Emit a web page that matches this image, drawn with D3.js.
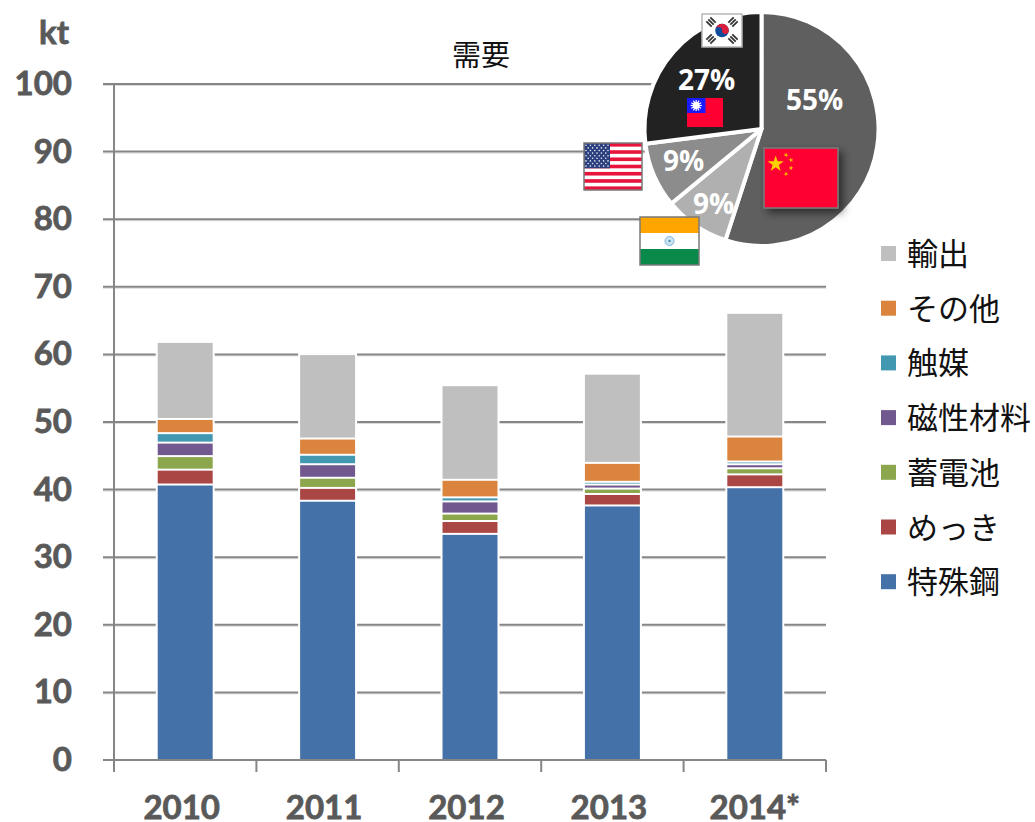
<!DOCTYPE html>
<html>
<head>
<meta charset="utf-8">
<script src="https://cdn.jsdelivr.net/npm/d3@7"></script>
<style>
  html, body { margin: 0; background: #fff; }
  svg { display: block; }
  text { font-family: Lato, "Open Sans", sans-serif; }
  .tick-label { font-size: 33px; font-weight: 700; fill: #595959; stroke: #595959; stroke-width: 0.8px; }
  .jp { font-family: "Noto Sans CJK JP", sans-serif; }
</style>
</head>
<body>
<svg id="chart" width="1035" height="822"></svg>
<script>
var years = ["2010", "2011", "2012", "2013", "2014*"];
var yTicks = [0, 10, 20, 30, 40, 50, 60, 70, 80, 90, 100];

// kt per year
var tokushuko = [40.9, 38.5, 33.6, 37.8, 40.5];
var mekki = [2.2, 1.9, 1.9, 1.7, 1.9];
var chikudenchi = [2.0, 1.5, 1.1, 0.8, 0.9];
var jisei = [2.0, 2.0, 1.8, 0.6, 0.6];
var shokubai = [1.4, 1.4, 0.6, 0.4, 0.4];
var sonota = [2.1, 2.4, 2.6, 2.8, 3.7];
var yushutsu = [11.1, 12.2, 13.7, 12.9, 18.0];

var seriesNames = ["特殊鋼", "めっき", "蓄電池", "磁性材料", "触媒", "その他", "輸出"];
var seriesColors = ["#4472a8", "#aa4644", "#8ba64d", "#71588f", "#4298b0", "#db843d", "#bfbfbf"];
var seriesValues = [tokushuko, mekki, chikudenchi, jisei, shokubai, sonota, yushutsu];

var pieShares = [55, 9, 9, 27];
var pieLabels = ["55%", "9%", "9%", "27%"];
var pieColors = ["#5f5f5f", "#b0b0b0", "#8c8c8c", "#222222"];

var svg = d3.select("#chart");

var x = d3.scaleBand().domain(years).range([114, 826]).paddingInner(0.614).paddingOuter(0.307);
var y = d3.scaleLinear().domain([0, 100]).range([760, 84]);

var axisColor = "#868686";

// gridlines
var grid = svg.append("g");
grid.selectAll("line.soft")
    .data(yTicks.slice(1))
  .enter().append("line")
    .attr("class", "soft")
    .attr("x1", 103).attr("x2", 826)
    .attr("y1", function(d) { return y(d) + 1.5; })
    .attr("y2", function(d) { return y(d) + 1.5; })
    .attr("stroke", "#dcdcdc").attr("stroke-width", 1);
grid.selectAll("line.main")
    .data(yTicks.slice(1))
  .enter().append("line")
    .attr("class", "main")
    .attr("x1", 103).attr("x2", 826)
    .attr("y1", function(d) { return y(d); })
    .attr("y2", function(d) { return y(d); })
    .attr("stroke", axisColor).attr("stroke-width", 2);

// stacked bars
var rows = years.map(function(year, i) {
  var row = { year: year };
  seriesNames.forEach(function(name, s) { row[name] = seriesValues[s][i]; });
  return row;
});
var stacked = d3.stack().keys(seriesNames)(rows);

var layer = svg.append("g").selectAll("g")
    .data(stacked)
  .enter().append("g")
    .attr("fill", function(d, i) { return seriesColors[i]; });

// white halo: 2px outside each segment, painted under its own fill
layer.selectAll("rect")
    .data(function(d) { return d; })
  .enter().append("rect")
    .attr("x", function(d) { return x(d.data.year); })
    .attr("width", x.bandwidth())
    .attr("y", function(d) { return y(d[1]); })
    .attr("height", function(d) { return y(d[0]) - y(d[1]); })
    .attr("stroke", "#fff").attr("stroke-width", 4).attr("paint-order", "stroke");

// axes
var axisX = svg.append("g").attr("transform", "translate(0," + y(0) + ")")
    .call(d3.axisBottom(x).tickSize(0).tickPadding(36));
axisX.select(".domain").remove();
axisX.selectAll("line").remove();
axisX.selectAll("text").attr("class", "tick-label").attr("fill", null)
    .attr("dx", function(d) { return d === "2014*" ? 0 : -3.5; });

var boundaries = d3.range(years.length + 1).map(function(i) { return 114 + i * x.step(); });
svg.append("g").selectAll("line")
    .data(boundaries)
  .enter().append("line")
    .attr("x1", function(d) { return d; }).attr("x2", function(d) { return d; })
    .attr("y1", 760).attr("y2", 772)
    .attr("stroke", axisColor).attr("stroke-width", 2);

svg.append("line").attr("x1", 103).attr("x2", 826).attr("y1", 760).attr("y2", 760)
    .attr("stroke", axisColor).attr("stroke-width", 2);
svg.append("line").attr("x1", 114).attr("x2", 114).attr("y1", 84).attr("y2", 772)
    .attr("stroke", axisColor).attr("stroke-width", 2);

var axisY = svg.append("g").attr("transform", "translate(114,0)")
    .call(d3.axisLeft(y).tickValues(yTicks).tickSize(0).tickPadding(42));
axisY.select(".domain").remove();
axisY.selectAll("line").remove();
axisY.selectAll("text").attr("class", "tick-label").attr("fill", null);

svg.append("text").attr("class", "tick-label").attr("x", 54).attr("y", 44)
    .attr("text-anchor", "middle").text("kt");

svg.append("text").attr("class", "jp").attr("x", 481).attr("y", 66)
    .attr("text-anchor", "middle").attr("font-size", 29).attr("fill", "#111").text("需要");

// legend, top entry is the last series
var legend = svg.append("g").selectAll("g")
    .data(seriesNames.slice().reverse())
  .enter().append("g")
    .attr("transform", function(d, i) { return "translate(881," + (254 + i * 54.7) + ")"; });
legend.append("rect").attr("x", 0).attr("y", -8).attr("width", 15).attr("height", 15)
    .attr("fill", function(d, i) { return seriesColors[seriesColors.length - 1 - i]; });
legend.append("text").attr("class", "jp").attr("x", 26).attr("y", 11)
    .attr("font-size", 31).attr("fill", "#111").text(function(d) { return d; });

// pie
var pieG = svg.append("g").attr("transform", "translate(761.5,129)");
var arc = d3.arc().innerRadius(0).outerRadius(117);
var arcs = d3.pie().sort(null)(pieShares);
pieG.selectAll("path")
    .data(arcs)
  .enter().append("path")
    .attr("d", arc)
    .attr("fill", function(d, i) { return pieColors[i]; })
    .attr("stroke", "#fff").attr("stroke-width", 4).attr("stroke-linejoin", "round");

// flags
var defs = svg.append("defs");
var shadow = defs.append("filter").attr("id", "flagShadow")
    .attr("x", "-20%").attr("y", "-20%").attr("width", "150%").attr("height", "150%");
shadow.append("feDropShadow").attr("dx", 4).attr("dy", 4).attr("stdDeviation", 4)
    .attr("flood-color", "#000").attr("flood-opacity", 0.55);

function starPath(cx, cy, r, rot) {
  var pts = d3.range(10).map(function(i) {
    var rad = i % 2 ? r * 0.382 : r;
    var a = rot + i * Math.PI / 5 - Math.PI / 2;
    return [cx + rad * Math.cos(a), cy + rad * Math.sin(a)];
  });
  return "M" + pts.join("L") + "Z";
}

function rect(g, x0, y0, w, h, fill) {
  return g.append("rect").attr("x", x0).attr("y", y0).attr("width", w).attr("height", h).attr("fill", fill);
}

// China
var cn = svg.append("g").attr("transform", "translate(764,148)");
rect(cn, 0, 0, 74, 60, "#ff0033").attr("stroke", "#7a7a7a").attr("stroke-width", 1.5).attr("filter", "url(#flagShadow)");
cn.append("path").attr("d", starPath(11.7, 16, 8.5, 0)).attr("fill", "#ffd000");
[[22, 7, 0.5], [27, 12, 1], [27, 20, 0.2], [22, 26, 0.7]].forEach(function(s) {
  cn.append("path").attr("d", starPath(s[0], s[1], 2.6, s[2])).attr("fill", "#ffb400");
});

// Taiwan
var tw = svg.append("g").attr("transform", "translate(687,98)");
rect(tw, 0, 0, 36, 29, "#ff0033");
rect(tw, 0, 0, 18.5, 15, "#1a1aff");
d3.range(12).forEach(function(i) {
  var a = i * Math.PI / 6;
  tw.append("line").attr("x1", 9.2).attr("y1", 7.5)
    .attr("x2", 9.2 + 5.6 * Math.cos(a)).attr("y2", 7.5 + 5.6 * Math.sin(a))
    .attr("stroke", "#fff").attr("stroke-width", 1.2);
});
tw.append("circle").attr("cx", 9.2).attr("cy", 7.5).attr("r", 3.4).attr("fill", "#fff");

// USA
var us = svg.append("g").attr("transform", "translate(584,143)");
rect(us, 0, 0, 58, 47, "#fff");
d3.range(7).forEach(function(i) { rect(us, 0, i * 47 * 2 / 13, 58, 47 / 13, "#e8143c"); });
rect(us, 0, 0, 26, 25.3, "#2b3f7e");
d3.range(9).forEach(function(row) {
  d3.range(row % 2 ? 5 : 6).forEach(function(col) {
    us.append("circle").attr("cx", (row % 2 ? 4.2 : 2) + col * 4.4).attr("cy", 2.3 + row * 2.6)
      .attr("r", 0.8).attr("fill", "#e8ecf5");
  });
});
rect(us, 0, 0, 58, 47, "none").attr("stroke", "#7a7a7a").attr("stroke-width", 1.5);

// India
var ind = svg.append("g").attr("transform", "translate(640,217)");
rect(ind, 0, 0, 59, 16, "#ffa500");
rect(ind, 0, 16, 59, 16, "#fff");
rect(ind, 0, 32, 59, 16, "#0a8a4a");
ind.append("circle").attr("cx", 29.5).attr("cy", 24).attr("r", 4.5).attr("fill", "#cfe4f2").attr("stroke", "#7db6d8");
ind.append("circle").attr("cx", 29.5).attr("cy", 24).attr("r", 1.2).attr("fill", "#3f8fc0");
rect(ind, 0, 0, 59, 48, "none").attr("stroke", "#7a7a7a").attr("stroke-width", 1.5);

// Korea
var kr = svg.append("g").attr("transform", "translate(702,14)");
rect(kr, 0, 0, 40, 33, "#fff").attr("stroke", "#b5b5b5").attr("stroke-width", 1.5);
kr.append("circle").attr("cx", 20).attr("cy", 16.5).attr("r", 6.8).attr("fill", "#0f4c9c");
kr.append("path").attr("d", "M13.2,16.5A6.8,6.8 0 0 1 26.8,16.5A3.4,3.4 0 0 1 20,16.5A3.4,3.4 0 0 0 13.2,16.5Z").attr("fill", "#d81e3c");
[[9, 8, 45], [31, 8, -45], [9, 25, -45], [31, 25, 45]].forEach(function(t) {
  var g = kr.append("g").attr("transform", "translate(" + t[0] + "," + t[1] + ") rotate(" + t[2] + ")");
  [-2.8, 0, 2.8].forEach(function(o) { rect(g, -3.8, o - 0.9, 7.6, 1.8, "#333"); });
});

// pie labels go on top of the flags
var labelPos = [[53, -29], [-48, 75], [-78, 32], [-55, -49]];
pieG.selectAll("text")
    .data(pieLabels)
  .enter().append("text")
    .attr("transform", function(d, i) { return "translate(" + labelPos[i] + ")"; })
    .attr("text-anchor", "middle")
    .attr("dy", "0.35em")
    .style("font-family", "'Open Sans', sans-serif")
    .attr("font-size", 28).attr("font-weight", 700).attr("fill", "#fff")
    .text(function(d) { return d; });
</script>
</body>
</html>
